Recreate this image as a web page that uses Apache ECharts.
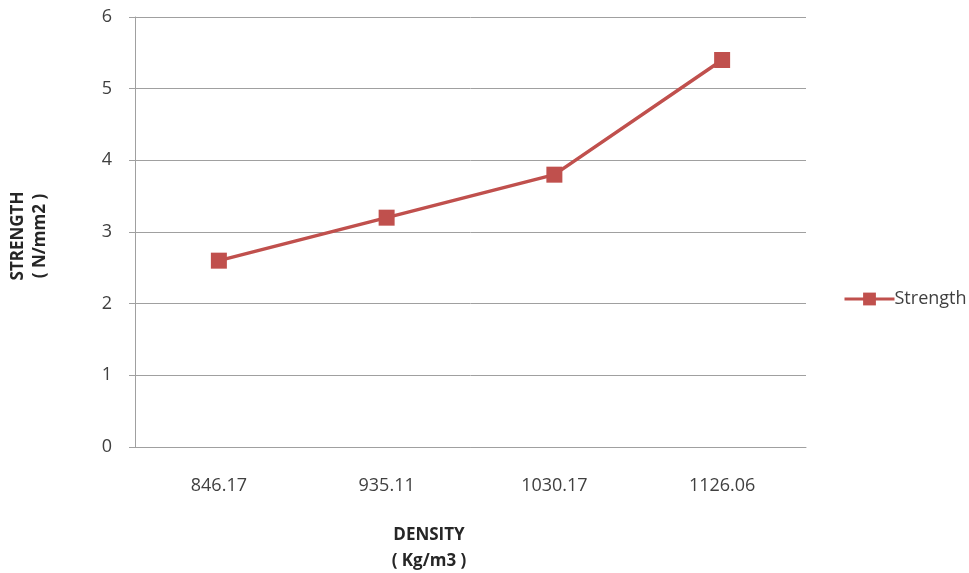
<!DOCTYPE html>
<html>
<head>
<meta charset="utf-8">
<script src="https://cdn.jsdelivr.net/npm/echarts@6/dist/echarts.min.js"></script>
<style>
html, body { margin: 0; padding: 0; background: #fff; }
#chart { width: 969px; height: 573px; }
</style>
</head>
<body>
<div id="chart"></div>
<script>
var densities = ['846.17', '935.11', '1030.17', '1126.06'];
var strength = [2.6, 3.2, 3.8, 5.4];

var chart = echarts.init(document.getElementById('chart'));
var font = '"Open Sans", "Liberation Sans", sans-serif';

chart.setOption({
    animation: false,
    textStyle: { fontFamily: font },
    grid: { left: 135, right: 163, top: 17, bottom: 126, containLabel: false },
    legend: {
        data: ['Strength'],
        left: 838,
        top: 285,
        itemWidth: 50,
        itemHeight: 16,
        itemGap: 4,
        lineStyle: { width: 3 },
        textStyle: { fontSize: 18, color: '#404040', fontFamily: font, padding: [0, 0, 0, -5] }
    },
    xAxis: {
        type: 'category',
        data: densities,
        boundaryGap: true,
        axisLine: { show: true, lineStyle: { color: '#a0a0a0', width: 1 } },
        axisTick: { show: false },
        axisLabel: { margin: 30, fontSize: 18, color: '#404040' }
    },
    yAxis: {
        type: 'value',
        min: 0,
        max: 6,
        interval: 1,
        axisLine: { show: true, lineStyle: { color: '#a0a0a0', width: 1 } },
        axisTick: { show: true, length: 6, lineStyle: { color: '#a0a0a0' } },
        axisLabel: { margin: 23, fontSize: 18, color: '#404040' },
        splitLine: { show: true, lineStyle: { color: '#a0a0a0', width: 1 } }
    },
    graphic: [
        {
            type: 'text',
            x: 29,
            y: 236,
            rotation: Math.PI / 2,
            style: {
                text: 'STRENGTH\n( N/mm2 )',
                fontSize: 17,
                fontWeight: 'bold',
                fontFamily: font,
                fill: '#262626',
                textAlign: 'center',
                textVerticalAlign: 'middle',
                lineHeight: 22
            }
        },
        {
            type: 'text',
            x: 429,
            y: 548,
            style: {
                text: 'DENSITY\n( Kg/m3 )',
                fontSize: 17,
                fontWeight: 'bold',
                fontFamily: font,
                fill: '#262626',
                textAlign: 'center',
                textVerticalAlign: 'middle',
                lineHeight: 26
            }
        }
    ],
    series: [
        {
            name: 'Strength',
            type: 'line',
            data: strength,
            symbol: 'rect',
            symbolSize: 16,
            lineStyle: { color: '#c0504d', width: 3.5 },
            itemStyle: { color: '#c0504d' }
        }
    ]
});
</script>
</body>
</html>
